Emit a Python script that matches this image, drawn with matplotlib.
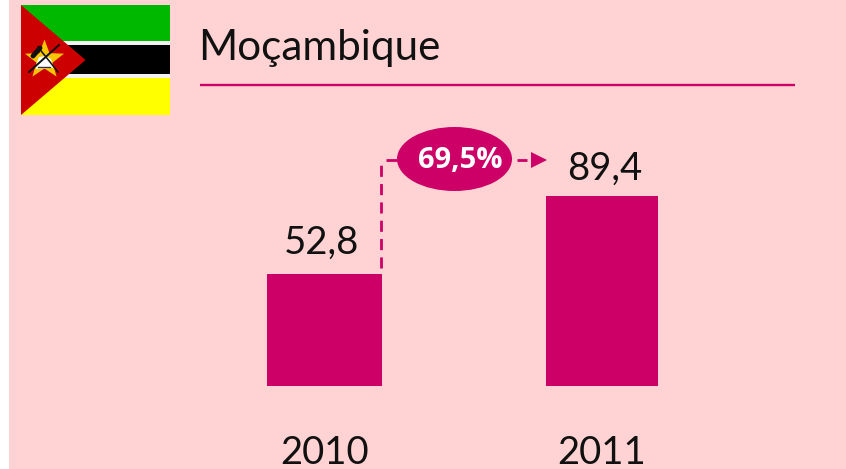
import matplotlib
matplotlib.use("Agg")
import matplotlib.pyplot as plt
from matplotlib.patches import Rectangle, Polygon, Ellipse
import numpy as np

title = "Moçambique"
years = ["2010", "2011"]
values = [52.8, 89.4]
value_labels = ["52,8", "89,4"]
growth_label = "69,5%"

PINK = "#FFD3D3"
MAG = "#CC0066"
W, H = 846, 469
FONT = "Lato"

fig = plt.figure(figsize=(W / 100, H / 100), dpi=100, facecolor="white")

# overlay axes in pixel coordinates for the decoration
deco = fig.add_axes([0, 0, 1, 1], zorder=0)
deco.set_xlim(0, W)
deco.set_ylim(H, 0)
deco.axis("off")
deco.add_patch(Rectangle((9, 0), W - 9, H, fc=PINK, ec="none"))

# flag
deco.add_patch(Rectangle((21, 5), 149, 36.5, fc="#00B800", ec="none"))
deco.add_patch(Rectangle((21, 41.5), 149, 4, fc="#F2F2F2", ec="none"))
deco.add_patch(Rectangle((21, 45.5), 149, 29, fc="black", ec="none"))
deco.add_patch(Rectangle((21, 74.5), 149, 4, fc="#F2F2F2", ec="none"))
deco.add_patch(Rectangle((21, 78.5), 149, 36.5, fc="#FFFF00", ec="none"))
deco.add_patch(Polygon([(21, 5), (85.5, 60), (21, 115)], fc="#CC0000", ec="none"))
cx, cy = 44.5, 60
ang = np.deg2rad(np.arange(0, 360, 36) - 90)
rad = np.where(np.arange(10) % 2 == 0, 20.5, 8.5)
deco.add_patch(Polygon(np.c_[cx + rad * np.cos(ang), cy + rad * np.sin(ang)], fc="#F7C600", ec="none"))
deco.add_patch(Polygon([(36, 65), (39, 57), (46, 56), (51, 59), (53, 68), (36, 69)], fc="white", ec="none"))
deco.plot([29, 59], [72, 45], color="#111111", lw=1.4)
deco.plot([38, 58], [47, 72], color="#111111", lw=1.1)
deco.plot([33, 40], [56, 48], color="#111111", lw=3.5, solid_capstyle="round")
deco.plot([38, 50], [67, 67], color="#333333", lw=1.0)

# title and rule
deco.text(198.5, 60, title, fontsize=30.4, family=FONT, color="#111111", va="baseline", ha="left")
deco.plot([200, 795], [85, 85], color=MAG, lw=1.7, solid_capstyle="butt")

# growth connector
deco.plot([381, 381], [268, 163], color=MAG, lw=2, dashes=(4, 2.6))
deco.plot([386, 397], [160, 160], color=MAG, lw=2, solid_capstyle="butt")
deco.plot([517, 527], [160, 160], color=MAG, lw=2, solid_capstyle="butt")
deco.add_patch(Polygon([(531, 152), (547, 160), (531, 168)], fc=MAG, ec="none"))
deco.add_patch(Ellipse((454.5, 159), 115, 64, fc=MAG, ec="none"))
deco.text(460, 161, growth_label, fontsize=21, family="Open Sans", fontweight="bold",
          color="white", ha="center", va="center")

# bars
left, right, top, bottom = 185.75, 740.75, 173, 386
ax = fig.add_axes([left / W, 1 - bottom / H, (right - left) / W, (bottom - top) / H], zorder=1)
ax.patch.set_alpha(0)
ax.set_xlim(-0.5, 1.5)
ax.set_ylim(0, 100)
xs = np.arange(len(years))
ax.bar(xs, values, width=[0.414, 0.404], color=MAG)
for s in ax.spines.values():
    s.set_visible(False)
ax.set_yticks([])
ax.set_xticks(xs, years)
ax.tick_params(axis="x", length=0, pad=35, labelsize=27.5)
for t in ax.get_xticklabels():
    t.set_family(FONT)
    t.set_color("#111111")
for x, v, s, dx, dy in zip(xs, values, value_labels, (-2, 2), (14.4, 11.5)):
    ax.annotate(s, (x, v), xytext=(dx, dy), textcoords="offset points",
                ha="center", va="baseline", fontsize=27.5, family=FONT, color="#111111")

fig.savefig("out.png", dpi=100, facecolor="white")
